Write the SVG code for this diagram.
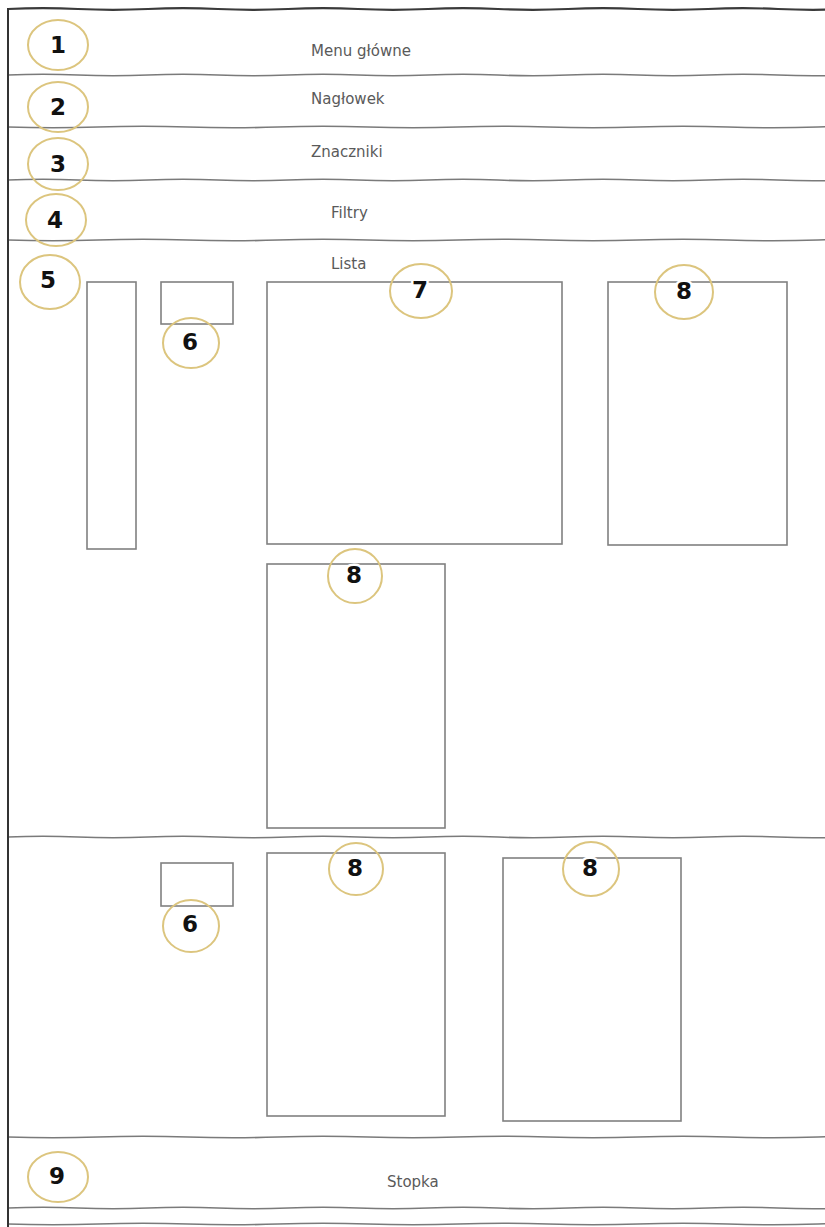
<svg xmlns="http://www.w3.org/2000/svg" width="825" height="1227" viewBox="0 0 825 1227">
<style>
.bg{fill:#ffffff}
.sep{fill:none;stroke:#7a7a7a;stroke-width:1.6}
.border{fill:none;stroke:#333;stroke-width:2}
.box{fill:none;stroke:#808080;stroke-width:1.6}
.lbl{font-family:"DejaVu Sans","Verdana",sans-serif;font-size:15px;fill:#5a5a5a}
.mark{fill:none;stroke:#dcc57e;stroke-width:2}
.num{font-family:"DejaVu Sans","Verdana",sans-serif;font-size:23px;font-weight:bold;fill:#111;text-anchor:middle;stroke:#fff;stroke-width:5;paint-order:stroke;stroke-linejoin:round}
</style>
<defs>
<path id="wave" d="M0 0 Q35 -1.6 70 0 T140 0 T210 0 T280 0 T350 0 T420 0 T490 0 T560 0 T630 0 T700 0 T770 0 T840 0"/>
<path id="wave2" d="M0 0 Q45 1.5 90 0 T180 0 T270 0 T360 0 T450 0 T540 0 T630 0 T720 0 T810 0 T900 0"/>
</defs>
<rect class="bg" x="0" y="0" width="825" height="1227"/>
<g id="connectors">
<use href="#wave" x="8" y="9" style="fill:none;stroke:#3a3a3a;stroke-width:2.2"/>
<use href="#wave" class="sep" x="8" y="75"/>
<use href="#wave2" class="sep" x="8" y="127"/>
<use href="#wave" class="sep" x="8" y="180"/>
<use href="#wave2" class="sep" x="8" y="240"/>
<use href="#wave" class="sep" x="8" y="837"/>
<use href="#wave2" class="sep" x="8" y="1137"/>
<use href="#wave" class="sep" x="8" y="1208"/>
<use href="#wave2" class="sep" x="8" y="1224"/>
<line class="border" x1="8" y1="8" x2="8" y2="1227"/>
</g>
<g id="menu-glowne"><text class="lbl" x="311" y="56">Menu główne</text></g>
<g id="naglowek"><text class="lbl" x="311" y="104">Nagłowek</text></g>
<g id="znaczniki"><text class="lbl" x="311" y="157">Znaczniki</text></g>
<g id="filtry"><text class="lbl" x="331" y="218">Filtry</text></g>
<g id="lista"><text class="lbl" x="331" y="269">Lista</text></g>
<g id="stopka"><text class="lbl" x="387" y="1187">Stopka</text></g>
<g id="box-sidebar"><rect class="box" x="87" y="282" width="49" height="267"/></g>
<g id="box-6a"><rect class="box" x="161" y="282" width="72" height="42"/></g>
<g id="box-7"><rect class="box" x="267" y="282" width="295" height="262"/></g>
<g id="box-8a"><rect class="box" x="608" y="282" width="179" height="263"/></g>
<g id="box-8b"><rect class="box" x="267" y="564" width="178" height="264"/></g>
<g id="box-6b"><rect class="box" x="161" y="863" width="72" height="43"/></g>
<g id="box-8c"><rect class="box" x="267" y="853" width="178" height="263"/></g>
<g id="box-8d"><rect class="box" x="503" y="858" width="178" height="263"/></g>
<g id="mark-1"><ellipse class="mark" cx="58" cy="45" rx="30" ry="25"/><text class="num" x="58" y="53">1</text></g>
<g id="mark-2"><ellipse class="mark" cx="58" cy="107" rx="30" ry="25"/><text class="num" x="58" y="115">2</text></g>
<g id="mark-3"><ellipse class="mark" cx="58" cy="164" rx="30" ry="26"/><text class="num" x="58" y="172">3</text></g>
<g id="mark-4"><ellipse class="mark" cx="56" cy="220" rx="30" ry="26"/><text class="num" x="55" y="228">4</text></g>
<g id="mark-5"><ellipse class="mark" cx="50" cy="282" rx="30" ry="27"/><text class="num" x="48" y="288">5</text></g>
<g id="mark-6a"><ellipse class="mark" cx="191" cy="343" rx="28" ry="25"/><text class="num" x="190" y="350">6</text></g>
<g id="mark-7"><ellipse class="mark" cx="421" cy="291" rx="31" ry="27"/><text class="num" x="420" y="298">7</text></g>
<g id="mark-8a"><ellipse class="mark" cx="684" cy="292" rx="29" ry="27"/><text class="num" x="684" y="299">8</text></g>
<g id="mark-8b"><ellipse class="mark" cx="355" cy="576" rx="27" ry="27"/><text class="num" x="354" y="583">8</text></g>
<g id="mark-6b"><ellipse class="mark" cx="191" cy="926" rx="28" ry="26"/><text class="num" x="190" y="932">6</text></g>
<g id="mark-8c"><ellipse class="mark" cx="356" cy="869" rx="27" ry="26"/><text class="num" x="355" y="876">8</text></g>
<g id="mark-8d"><ellipse class="mark" cx="591" cy="869" rx="28" ry="27"/><text class="num" x="590" y="876">8</text></g>
<g id="mark-9"><ellipse class="mark" cx="58" cy="1177" rx="30" ry="25"/><text class="num" x="57" y="1184">9</text></g>
</svg>
